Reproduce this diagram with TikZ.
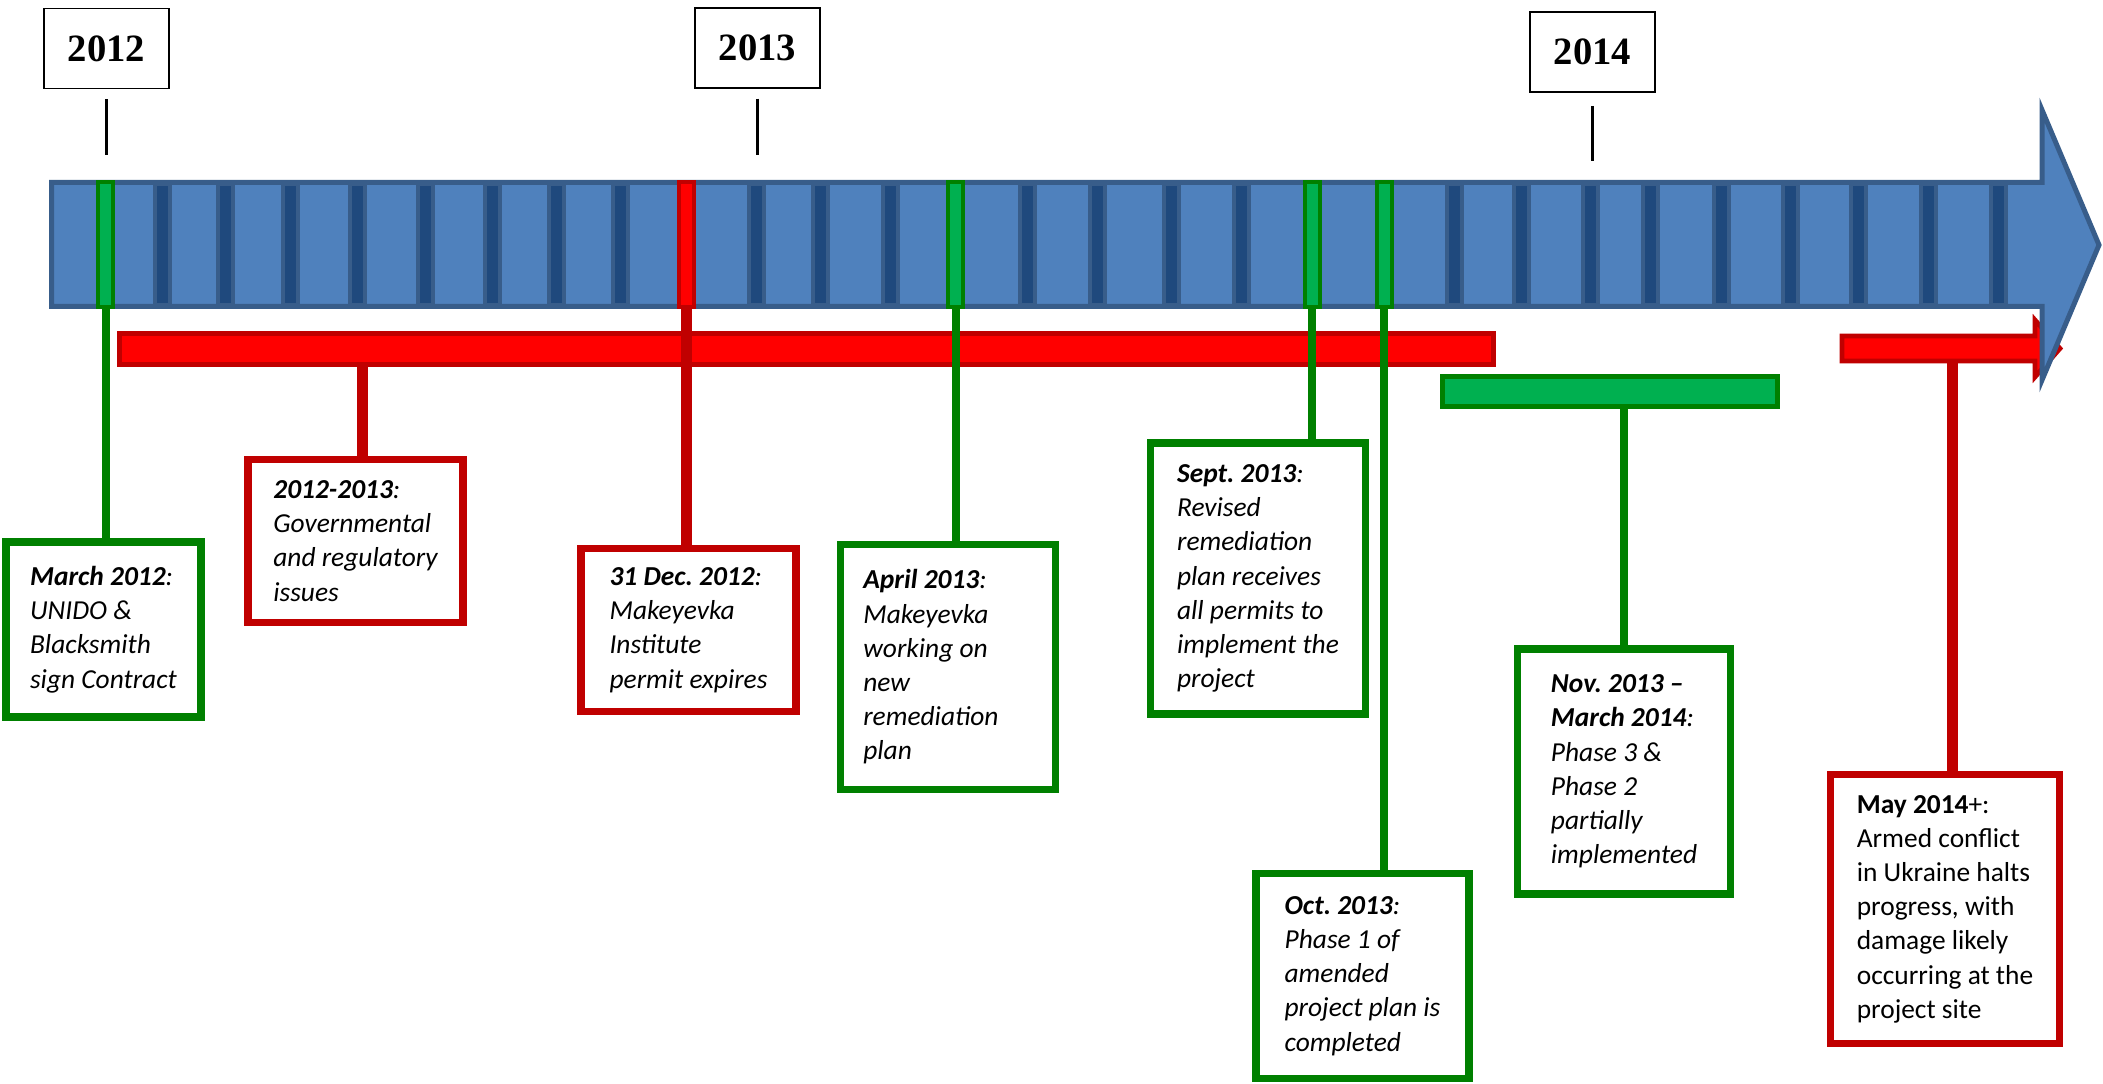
\documentclass[tikz,border=0pt]{standalone}
\usepackage{fontspec}
\setmainfont{Carlito}
\newfontfamily\yearfont{Liberation Serif}
\usepackage{tikz}
\usetikzlibrary{positioning}
\definecolor{barblue}{RGB}{79,129,189}
\definecolor{baredge}{RGB}{56,93,138}
\definecolor{sepdark}{RGB}{31,73,125}
\definecolor{evred}{RGB}{255,0,0}
\definecolor{evredline}{RGB}{192,0,0}
\definecolor{evgreen}{RGB}{0,176,80}
\definecolor{evgreenline}{RGB}{0,128,0}
\frenchspacing

\begin{document}
\begin{tikzpicture}[x=0.015cm,y=-0.015cm,
    evbox/.style={draw,line width=0.1125cm,fill=white,align=left,inner sep=0pt,
      font=\fontsize{11.7}{14.6}\selectfont\itshape},
    redbox/.style={evbox,draw=evredline},
    greenbox/.style={evbox,draw=evgreenline},
    gmark/.style={draw=evgreenline,fill=evgreen,line width=0.06cm,inner sep=0pt,
      minimum width=0.225cm,minimum height=1.875cm},
    rmark/.style={gmark,draw=evredline,fill=evred},
    redline/.style={evredline,line width=0.165cm},
    greenline/.style={evgreenline,line width=0.12cm},
    yearbox/.style={draw,line width=0.02cm,minimum width=1.875cm,minimum height=1.2cm,
      font=\yearfont\fontsize{16.5}{18}\selectfont\bfseries},
    yeartick/.style={line width=0.05cm}]
    \useasboundingbox (0,0) rectangle (2103,1084);
    % halt arrow (sits under the timeline head)
    \filldraw[draw=evredline,fill=evred,line width=0.07cm]
      (1842,336) -- (2035,336) -- (2035,320) -- (2060,348.5) -- (2035,377)
      -- (2035,361) -- (1842,361) -- cycle;
    \coordinate (haltpt) at (1952,363);
    % timeline arrow
    \filldraw[draw=baredge,fill=barblue,line width=0.075cm]
      (51.5,182.5) -- (2042,182.5) -- (2042,110) -- (2099,245) -- (2042,380)
      -- (2042,306.5) -- (51.5,306.5) -- cycle;
    % month separators
    \foreach \sx in {162,225,290,357,425,492,556,620,756,820,890,1027,1097,1171,
                     1241,1454,1521,1590,1650,1721,1790,1858,1928,1998}
      \filldraw[draw=baredge,fill=sepdark,line width=0.06cm] (\sx-7.5,184) rectangle (\sx+7.5,305);
    % event markers
    \node[gmark] (mMar12) at (105.5,244.5) {};
    \node[rmark] (mDec12) at (686.5,244.5) {};
    \node[gmark] (mApr13) at (955.5,244.5) {};
    \node[gmark] (mSep13) at (1312,244.5) {};
    \node[gmark] (mOct13) at (1384,244.5) {};
    % period bars
    \node[draw=evredline,fill=evred,line width=0.075cm,inner sep=0pt,
      minimum width=20.61cm,minimum height=0.465cm] (delaybar) at (806.5,349) {};
    \node[draw=evgreenline,fill=evgreen,line width=0.075cm,inner sep=0pt,
      minimum width=5.025cm,minimum height=0.45cm] (worksbar) at (1610,391.5) {};
    \coordinate (govpt) at (362,367);
    % event boxes
    \node[greenbox,minimum width=2.93cm,minimum height=2.63cm] (bMar12) at (103.5,629.5)
      {\textbf{March 2012}:\\UNIDO \&\\Blacksmith\\sign Contract};
    \node[redbox,minimum width=3.23cm,minimum height=2.44cm] (bGov) at (355.5,541)
      {\textbf{2012-2013}:\\Governmental\\and regulatory\\issues};
    \node[redbox,minimum width=3.23cm,minimum height=2.44cm] (bDec12) at (688.5,630)
      {\textbf{31 Dec. 2012}:\\Makeyevka\\Institute\\permit expires};
    \node[greenbox,align=flush left,text width=2.54cm,inner xsep=0.34cm,minimum height=3.67cm] (bApr13) at (948,667)
      {\textbf{April 2013}:\\Makeyevka\\working on\\new\\remediation\\plan};
    \node[greenbox,minimum width=3.22cm,minimum height=4.07cm] (bSep13) at (1258,578.5)
      {\textbf{Sept. 2013}:\\Revised\\remediation\\plan receives\\all permits to\\implement the\\project};
    \node[greenbox,minimum width=3.2cm,minimum height=3.07cm] (bOct13) at (1362.5,976)
      {\textbf{Oct. 2013}:\\Phase 1 of\\amended\\project plan is\\completed};
    \node[greenbox,minimum width=3.19cm,minimum height=3.68cm] (bNov13) at (1624,771.5)
      {\textbf{Nov. 2013 –}\\\textbf{March 2014}:\\Phase 3 \&\\Phase 2\\partially\\implemented};
    \node[redbox,minimum width=3.43cm,minimum height=4.03cm,font=\fontsize{11.7}{14.6}\selectfont] (bMay14) at (1945,909)
      {\textbf{May 2014}+:\\Armed conflict\\in Ukraine halts\\progress, with\\damage likely\\occurring at the\\project site};
    % connectors
    \draw[greenline] (mMar12.south) -- (mMar12.south |- bMar12.north);
    \draw[redline] (govpt) -- (govpt |- bGov.north);
    \draw[redline] (mDec12.south) -- (mDec12.south |- bDec12.north);
    \draw[greenline] (mApr13.south) -- (mApr13.south |- bApr13.north);
    \draw[greenline] (mSep13.south) -- (mSep13.south |- bSep13.north);
    \draw[greenline] (mOct13.south) -- (mOct13.south |- bOct13.north);
    \draw[greenline] (bNov13.north |- worksbar.south) -- (bNov13.north);
    \draw[redline] (haltpt) -- (haltpt |- bMay14.north);
    % years
    \node[yearbox] (y12) at (106.5,48.5) {2012};
    \node[yearbox] (y13) at (757.5,48) {2013};
    \node[yearbox] (y14) at (1592.5,52) {2014};
    \draw[yeartick] ([yshift=-0.15cm]y12.south) -- ++(0,56);
    \draw[yeartick] ([yshift=-0.15cm]y13.south) -- ++(0,56);
    \draw[yeartick] ([yshift=-0.2cm]y14.south) -- ++(0,55);
\end{tikzpicture}
\end{document}
